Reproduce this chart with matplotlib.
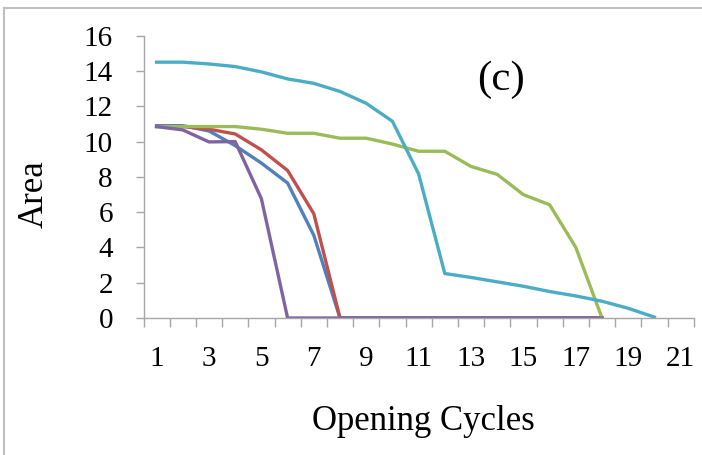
import numpy as np
import matplotlib.pyplot as plt
from matplotlib.lines import Line2D

plt.rcParams['font.family'] = ['Liberation Serif', 'DejaVu Serif']

# data
cycles = list(range(1, 22))
tick_labels = [str(c) for c in range(1, 22, 2)]

blue = [10.9, 10.9, 10.6, 9.77, 8.78, 7.65, 4.69, 0, 0, 0, 0, 0, 0, 0, 0, 0, 0, 0]
red = [10.85, 10.85, 10.7, 10.43, 9.53, 8.36, 5.91, 0, 0, 0, 0, 0, 0, 0, 0, 0, 0, 0]
green = [10.85, 10.85, 10.85, 10.85, 10.7, 10.47, 10.47, 10.19, 10.19, 9.86,
         9.45, 9.45, 8.59, 8.14, 6.99, 6.42, 4.0, 0]
purple = [10.85, 10.66, 9.98, 10.0, 6.76, 0, 0, 0, 0, 0, 0, 0, 0, 0, 0, 0, 0, 0]
cyan = [14.5, 14.5, 14.4, 14.25, 13.95, 13.55, 13.3, 12.84, 12.17, 11.15,
        8.17, 2.52, 2.3, 2.05, 1.8, 1.5, 1.25, 0.95, 0.55, 0.05]

series = [
    (blue, '#4F81BD'),
    (red, '#C0504D'),
    (green, '#9BBB59'),
    (purple, '#8064A2'),
    (cyan, '#4BACC6'),
]

fig = plt.figure(figsize=(7.02, 4.55), dpi=100)
ax = fig.add_axes([143.5 / 702, 1 - 318 / 455, 550.2 / 702, 282.3 / 455])

for vals, col in series:
    ax.plot(cycles[:len(vals)], vals, color=col, linewidth=2.4, solid_joinstyle='round')

ax.set_xlim(0.5, 21.5)
ax.set_ylim(0, 16)
ax.set_yticks(np.arange(0, 17, 2))
ax.set_xticks(range(1, 22, 2))
ax.set_xticklabels(tick_labels)
ax.set_xticks(np.arange(0.5, 22, 1), minor=True)

for s in ['top', 'right']:
    ax.spines[s].set_visible(False)
for s in ['left', 'bottom']:
    ax.spines[s].set_color('#A6A6A6')
    ax.spines[s].set_linewidth(1.0)

ax.tick_params(axis='y', which='major', direction='out', length=6, width=1.0,
               color='#A6A6A6', labelsize=21, pad=16)
ax.tick_params(axis='x', which='major', length=0, labelsize=21, pad=20)
ax.tick_params(axis='x', which='minor', direction='out', length=6.5, width=1.0,
               color='#A6A6A6')

fig.text(34 / 702, 1 - 194 / 455, 'Area', fontsize=25, rotation=90,
         ha='center', va='center')
fig.text(423.5 / 702, 1 - 430 / 455, 'Opening Cycles', fontsize=25,
         ha='center', va='baseline')

ax.text(0.65, 0.843, '(c)', transform=ax.transAxes, fontsize=31,
        ha='center', va='center')

# outer frame (only top and left visible)
fig.add_artist(Line2D([4 / 702, 4 / 702], [0, 1 - 8 / 455], transform=fig.transFigure,
                      color='#BFBFBF', linewidth=1.5))
fig.add_artist(Line2D([4 / 702, 1], [1 - 8 / 455, 1 - 8 / 455], transform=fig.transFigure,
                      color='#BFBFBF', linewidth=1.5))

fig.savefig('out.png', dpi=100)
plt.close(fig)
